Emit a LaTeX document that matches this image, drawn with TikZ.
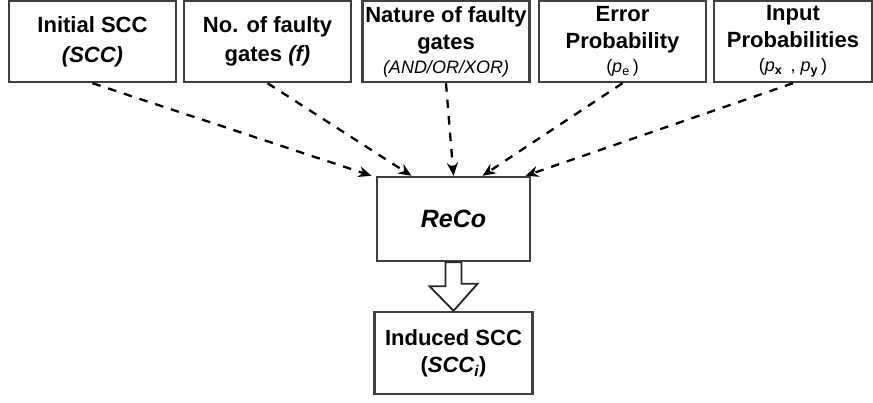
\documentclass[tikz,border=0pt]{standalone}
\usepackage{fontspec}
\setmainfont{Liberation Sans}
\usetikzlibrary{arrows.meta}

\begin{document}
\begin{tikzpicture}[x=1pt,y=-1pt,
  inbox/.style={draw=black!75,line width=2.4pt,minimum width=167pt,minimum height=81pt,
    inner sep=0pt,align=center,font=\bfseries\fontsize{22}{27}\selectfont},
  feed/.style={dash pattern=on 8.5pt off 8pt,line width=2.3pt,-{Stealth[length=13pt,width=11pt]}},
  hollow/.style={draw=black!85,line width=1.8pt,fill=white,line join=miter}]
  \useasboundingbox (0,0) rectangle (873,402);
  % inputs
  \node[inbox] (scc) at (92.5,41.5) {Initial SCC\\[3pt]\textit{(SCC)}};
  \node[inbox] (faulty) at (267.5,41.5) {No. of faulty\\[2pt]gates \textit{(f)}};
  \node[inbox] (nature) at (446,41.5) {Nature of faulty\\gates\\[-3pt]{\mdseries\itshape\fontsize{18}{20}\selectfont (AND/OR/XOR)}};
  \node[inbox] (perr) at (622.5,41.5) {Error\\Probability\\[-3pt]{\mdseries\fontsize{18}{20}\selectfont (\textit{p}\textsubscript{e}\,)}};
  \node[inbox,minimum width=158pt] (pin) at (793,41.5) {Input\\Probabilities\\[-3pt]{\mdseries\fontsize{18}{20}\selectfont (\textit{p}\textsubscript{\textbf{x}}\, , \textit{p}\textsubscript{\textbf{y}}\,)}};
  % tool and output
  \node[inbox,minimum width=153pt,minimum height=84pt,font=\bfseries\itshape\fontsize{25}{30}\selectfont] (reco) at (453.5,219) {ReCo};
  \node[inbox,minimum width=158pt,minimum height=82pt] (scci) at (453.5,353) {Induced SCC\\(\textit{SCC\textsubscript{i}})};
  \draw[feed] (scc.south) -- ([xshift=-82pt]reco.north);
  \draw[feed] (faulty.south) -- ([xshift=-42pt]reco.north);
  \draw[feed] (nature.south) -- (reco.north);
  \draw[feed] (perr.south) -- ([xshift=29pt]reco.north);
  \draw[feed] (pin.south) -- ([xshift=72pt]reco.north);
  \draw[hollow] ([xshift=-8pt]reco.south) -- ++(0,24) -- ++(-16,0) -- (scci.north)
    -- ++(24,-27) -- ++(-16,0) -- ([xshift=8pt]reco.south) -- cycle;
\end{tikzpicture}
\end{document}
